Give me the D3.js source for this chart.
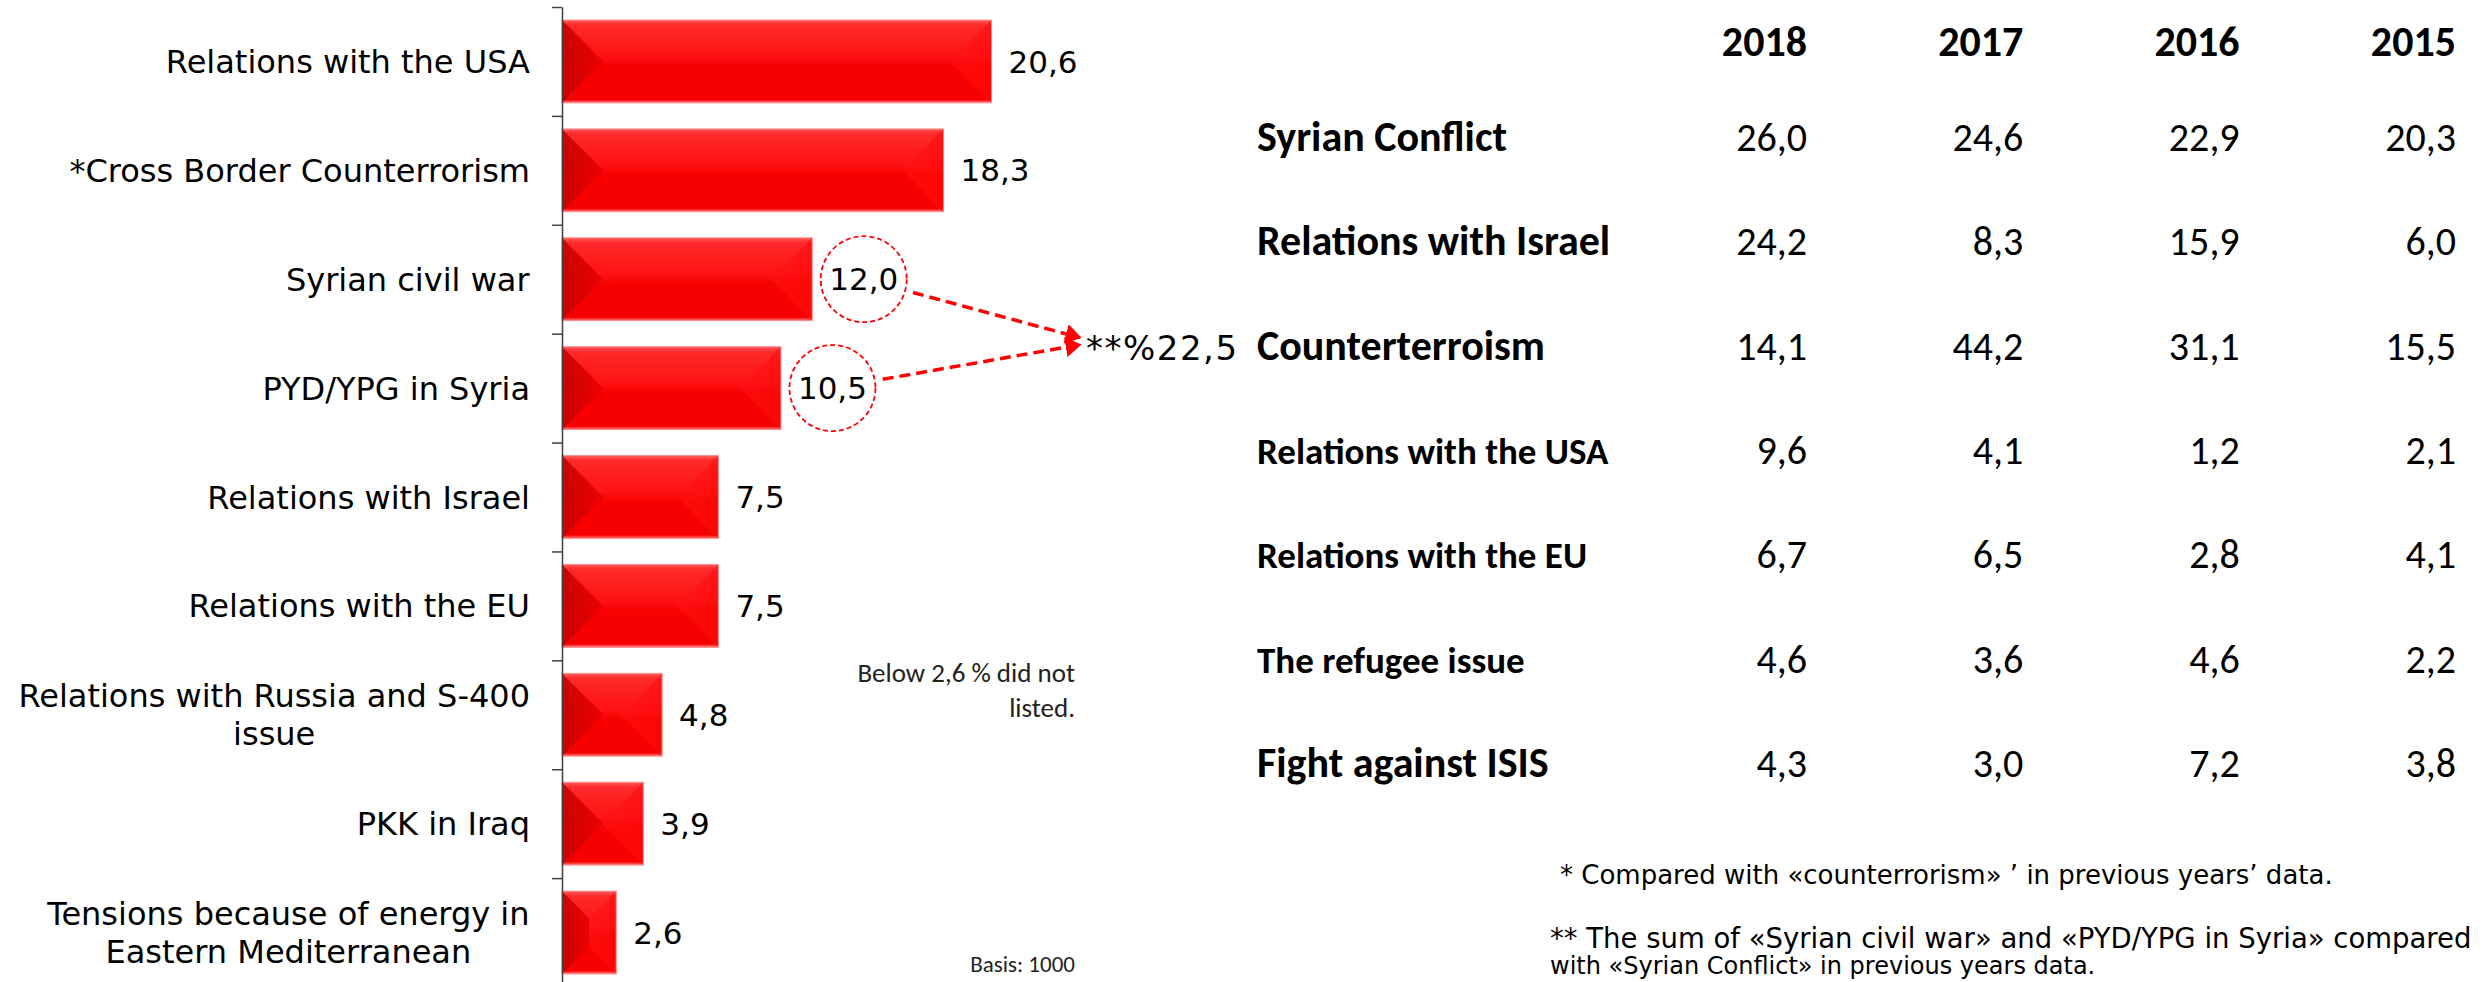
<!DOCTYPE html>
<html>
<head>
<meta charset="utf-8">
<script src="https://cdnjs.cloudflare.com/ajax/libs/d3/7.8.5/d3.min.js"></script>
<style>
  body { margin: 0; background: #fff; }
  svg { display: block; }
</style>
</head>
<body>
<svg id="chart"></svg>
<script>
// jshint esversion:6

// left chart: 2019 answers
let categories = [
  "Relations with the USA",
  "*Cross Border Counterrorism",
  "Syrian civil war",
  "PYD/YPG in Syria",
  "Relations with Israel",
  "Relations with the EU",
  "Relations with Russia and S-400\nissue",
  "PKK in Iraq",
  "Tensions because of energy in\nEastern Mediterranean"
];
let values = [20.6, 18.3, 12.0, 10.5, 7.5, 7.5, 4.8, 3.9, 2.6];
let circled = ["Syrian civil war", "PYD/YPG in Syria"];
let combinedLabel = "**%22,5";
let noteLines = ["Below 2,6 % did not", "listed."];
let basisText = "Basis: 1000";

// right table: previous years
let years = ["2018", "2017", "2016", "2015"];
let topics = [
  "Syrian Conflict",
  "Relations with Israel",
  "Counterterroism",
  "Relations with the USA",
  "Relations with the EU",
  "The refugee issue",
  "Fight against ISIS"
];
let v2018 = [26.0, 24.2, 14.1, 9.6, 6.7, 4.6, 4.3];
let v2017 = [24.6, 8.3, 44.2, 4.1, 6.5, 3.6, 3.0];
let v2016 = [22.9, 15.9, 31.1, 1.2, 2.8, 4.6, 7.2];
let v2015 = [20.3, 6.0, 15.5, 2.1, 4.1, 2.2, 3.8];
let footnotes = [
  "* Compared with «counterrorism» ’ in previous years’ data.",
  "** The sum of «Syrian civil war» and «PYD/YPG in Syria» compared",
  "with «Syrian Conflict» in previous years data."
];

let width = 2483;
let height = 982;

let svg = d3.select('#chart')
  .attr('width', width)
  .attr('height', height);

let fmt = d3.formatLocale({ decimal: ",", thousands: ".", grouping: [3], currency: ["", ""] }).format(".1f");

let tahoma = "'DejaVu Sans', Verdana, sans-serif";
let calibri = "Carlito, Calibri, Lato, sans-serif";

let xScale;
let yScale;

let generateScales = () => {
  xScale = d3.scaleLinear()
    .domain([0, 25])
    .range([562, 562 + 25 * 20.85]);

  yScale = d3.scaleBand()
    .domain(categories)
    .range([7, 987])
    .paddingInner(0.24)
    .paddingOuter(0.12);
};

let defs = svg.append('defs');

let makeGradient = (id, x2, y2, stops) => {
  let g = defs.append('linearGradient')
    .attr('id', id)
    .attr('x1', 0).attr('y1', 0)
    .attr('x2', x2).attr('y2', y2);
  stops.forEach(s => {
    g.append('stop').attr('offset', s[0]).attr('stop-color', s[1]);
  });
};

makeGradient('barFill', 0, 1, [
  [0, '#ff5a5a'], [0.06, '#ff2a2a'], [0.45, '#ff1111'],
  [0.55, '#f80000'], [0.96, '#f80000'], [1, '#ff7a7a']
]);
makeGradient('leftBevel', 1, 0, [[0, '#c40000'], [1, '#ea0000']]);
makeGradient('rightBevel', 1, 0, [[0, '#ff1414'], [1, '#ff0a0a']]);

defs.append('marker')
  .attr('id', 'arrowHead')
  .attr('viewBox', '0 0 10 10')
  .attr('refX', 9)
  .attr('refY', 5)
  .attr('markerUnits', 'userSpaceOnUse')
  .attr('markerWidth', 16)
  .attr('markerHeight', 20)
  .attr('preserveAspectRatio', 'none')
  .attr('orient', 'auto')
  .append('path')
  .attr('d', 'M0,0L10,5L0,10Z')
  .attr('fill', '#ff0000');

let drawBars = () => {
  let bars = svg.append('g')
    .selectAll('g')
    .data(categories.map((c, i) => ({ cat: c, value: values[i] })))
    .enter()
    .append('g');

  bars.each(function (d) {
    let g = d3.select(this);
    let x0 = xScale(0);
    let x1 = xScale(d.value);
    let y0 = yScale(d.cat);
    let h = yScale.bandwidth();
    let b = Math.min(h / 2, (x1 - x0) / 2);

    g.append('rect')
      .attr('x', x0)
      .attr('y', y0)
      .attr('width', x1 - x0)
      .attr('height', h)
      .attr('fill', 'url(#barFill)');

    g.append('polygon')
      .attr('points', [[x0, y0], [x0 + b, y0 + b], [x0 + b, y0 + h - b], [x0, y0 + h]].join(' '))
      .attr('fill', 'url(#leftBevel)')
      .attr('opacity', 0.9);

    g.append('polygon')
      .attr('points', [[x1, y0], [x1 - b, y0 + b], [x1 - b, y0 + h - b], [x1, y0 + h]].join(' '))
      .attr('fill', 'url(#rightBevel)')
      .attr('opacity', 0.6);

    g.append('rect')
      .attr('x', x0)
      .attr('y', y0)
      .attr('width', x1 - x0)
      .attr('height', h)
      .attr('fill', 'none')
      .attr('stroke', '#ff8a8a')
      .attr('stroke-width', 1);
  });
};

let drawAxis = () => {
  let tickScale = d3.scaleLinear()
    .domain([0, categories.length])
    .range(yScale.range());

  let axis = svg.append('g')
    .attr('transform', 'translate(' + xScale(0) + ',0)')
    .call(d3.axisLeft(tickScale)
      .tickValues(d3.range(categories.length + 1))
      .tickFormat('')
      .tickSizeInner(10)
      .tickSizeOuter(0));

  axis.select('.domain').attr('stroke', '#404040').attr('stroke-width', 1.5);
  axis.selectAll('.tick line').attr('stroke', '#404040').attr('stroke-width', 1.5);
};

let drawLabels = () => {
  let mid = d => yScale(d) + yScale.bandwidth() / 2;

  let labels = svg.append('g')
    .selectAll('text')
    .data(categories)
    .enter()
    .append('text')
    .attr('font-family', tahoma)
    .attr('font-size', 32)
    .attr('fill', '#000')
    .attr('text-anchor', 'middle');

  labels.each(function (d) {
    let lines = d.split('\n');
    let t = d3.select(this);
    lines.forEach((line, i) => {
      t.append('tspan')
        .attr('x', 0)
        .attr('y', mid(d) + (i - (lines.length - 1) / 2) * 38)
        .attr('dy', '0.36em')
        .text(line);
    });
    // right align the whole block on the label edge
    let w = this.getBBox().width;
    t.selectAll('tspan').attr('x', 530 - w / 2);
  });

  svg.append('g')
    .selectAll('text')
    .data(categories)
    .enter()
    .append('text')
    .attr('class', 'value')
    .attr('x', (d, i) => xScale(values[i]) + 17)
    .attr('y', d => mid(d))
    .attr('dy', '0.36em')
    .attr('font-family', tahoma)
    .attr('font-size', 31)
    .attr('fill', '#000')
    .text((d, i) => fmt(values[i]));
};

// ---- table scales ----
let colScale = d3.scalePoint().domain(years).range([1807, 2456]);
let rowScale = d3.scalePoint().domain(topics).range([151, 777]);

let drawAnnotation = () => {
  let annX = 1086;
  let annY = rowScale(topics[2]);

  svg.append('text')
    .attr('x', annX)
    .attr('y', annY)
    .attr('font-family', tahoma)
    .attr('font-size', 34)
    .attr('letter-spacing', 1.5)
    .attr('fill', '#000')
    .text(combinedLabel);

  let tips = [[annX - 6, annY - 22], [annX - 6, annY - 15]];

  svg.selectAll('.value')
    .filter(d => circled.includes(d))
    .each(function (d) {
      let bb = this.getBBox();
      let cx = bb.x + bb.width / 2;
      let cy = yScale(d) + yScale.bandwidth() / 2;
      let r = 43;
      let tip = tips[circled.indexOf(d)];

      svg.append('circle')
        .attr('cx', cx)
        .attr('cy', cy)
        .attr('r', r)
        .attr('fill', 'none')
        .attr('stroke', '#ff0000')
        .attr('stroke-width', 1.8)
        .attr('stroke-dasharray', '5,3');

      let dx = tip[0] - cx;
      let dy = tip[1] - cy;
      let len = Math.sqrt(dx * dx + dy * dy);
      let gap = r + 8;

      svg.append('line')
        .attr('x1', cx + dx / len * gap)
        .attr('y1', cy + dy / len * gap)
        .attr('x2', tip[0])
        .attr('y2', tip[1])
        .attr('stroke', '#ff0000')
        .attr('stroke-width', 3.5)
        .attr('stroke-dasharray', '11,6')
        .attr('marker-end', 'url(#arrowHead)');
    });
};

let drawNotes = () => {
  svg.append('text')
    .attr('text-anchor', 'end')
    .attr('font-family', calibri)
    .attr('font-weight', 300)
    .attr('font-size', 27)
    .attr('fill', '#222')
    .selectAll('tspan')
    .data(noteLines)
    .enter()
    .append('tspan')
    .attr('x', 1075)
    .attr('y', (d, i) => 682 + i * 35)
    .text(d => d);

  svg.append('text')
    .attr('x', 1075)
    .attr('y', 972)
    .attr('text-anchor', 'end')
    .attr('font-family', calibri)
    .attr('font-size', 23)
    .attr('fill', '#222')
    .text(basisText);
};

let drawTable = () => {
  let series = [v2018, v2017, v2016, v2015];
  let labelSize = d => {
    if (d === "Relations with the USA" || d === "Relations with the EU") return 37;
    if (d === "The refugee issue") return 37;
    return 42;
  };

  svg.append('g')
    .selectAll('text')
    .data(years)
    .enter()
    .append('text')
    .attr('x', d => colScale(d))
    .attr('y', 56)
    .attr('text-anchor', 'end')
    .attr('font-family', calibri)
    .attr('font-weight', 'bold')
    .attr('font-size', 42)
    .attr('fill', '#000')
    .text(d => d);

  svg.append('g')
    .selectAll('text')
    .data(topics)
    .enter()
    .append('text')
    .attr('x', 1257)
    .attr('y', d => rowScale(d))
    .attr('font-family', calibri)
    .attr('font-weight', 'bold')
    .attr('font-size', labelSize)
    .attr('fill', '#000')
    .text(d => d);

  years.forEach((yr, j) => {
    svg.append('g')
      .selectAll('text')
      .data(series[j])
      .enter()
      .append('text')
      .attr('x', colScale(yr))
      .attr('y', (d, i) => rowScale(topics[i]))
      .attr('text-anchor', 'end')
      .attr('font-family', calibri)
      .attr('font-size', 40)
      .attr('fill', '#000')
      .text(d => fmt(d));
  });

  svg.append('g')
    .selectAll('text')
    .data(footnotes)
    .enter()
    .append('text')
    .attr('x', (d, i) => i === 0 ? 1560 : 1550)
    .attr('y', (d, i) => [884, 948, 974][i])
    .attr('font-family', tahoma)
    .attr('font-size', (d, i) => [26, 27.5, 24][i])
    .attr('fill', '#000')
    .text(d => d);
};

generateScales();
drawBars();
drawAxis();
drawLabels();
drawTable();
drawAnnotation();
drawNotes();
</script>
</body>
</html>
